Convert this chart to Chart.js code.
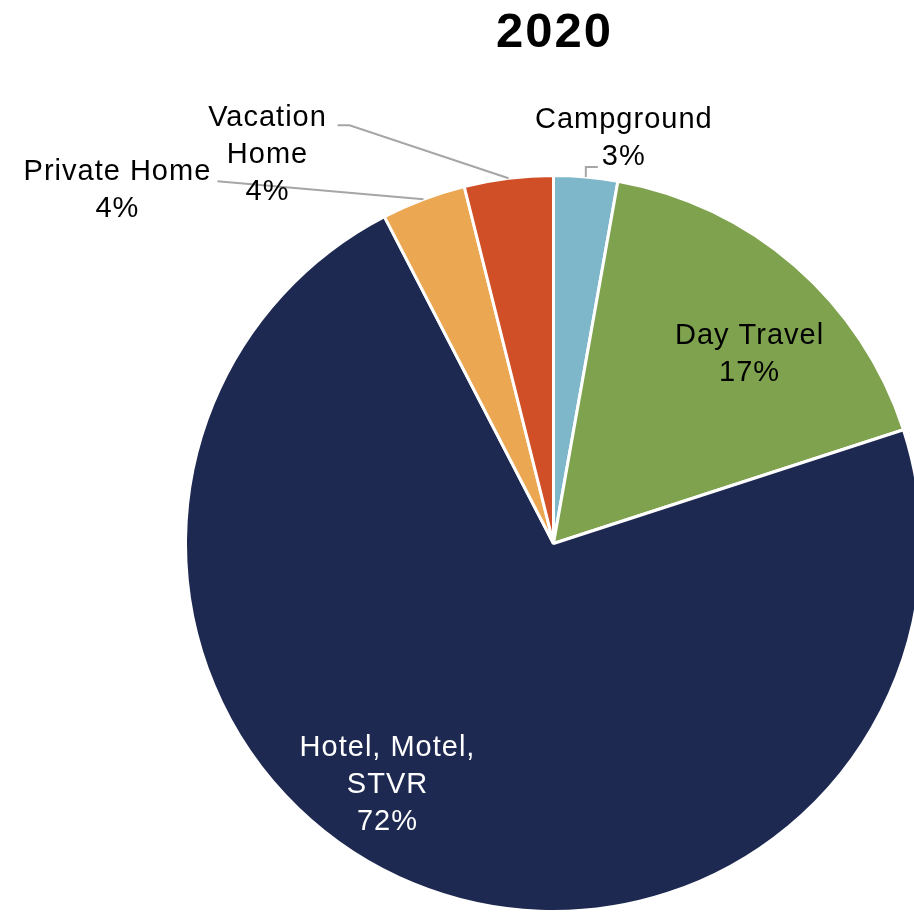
<!DOCTYPE html>
<html>
<head>
<meta charset="utf-8">
<script src="https://cdn.jsdelivr.net/npm/chart.js@4"></script>
<style>
  html, body { margin: 0; padding: 0; background: #fff; overflow: hidden; }
  #wrap { width: 914px; height: 913px; overflow: hidden; }
</style>
</head>
<body>
<div id="wrap"><canvas id="myChart" width="1108" height="913"></canvas></div>
<script>
const chartTitle = '2020';
const categories = ['Campground', 'Day Travel', ['Hotel, Motel,', 'STVR'], 'Private Home', ['Vacation', 'Home']];
const shares = [2.8, 17.2, 72.4, 3.7, 3.9];
const sliceColors = ['#7FB7CA', '#7FA24E', '#1D2951', '#EBA752', '#D04F27'];

// label placement: inside -> shift angle (deg) + radius fraction, outside -> leader + text offset
const labelStyle = [
  { out: true, leader: [[0, -10], [12, -10]], text: [38, -49], color: '#000' },
  { out: false, shift: 5, frac: 0.74, color: '#000', dy: 8 },
  { out: false, shift: 12, frac: 0.80, color: '#fff', dy: 6 },
  { out: true, leader: [[-206, -18]], text: [-306, -19], color: '#000' },
  { out: true, leader: [[-159, -53], [-171, -53]], text: [-241, -52], color: '#000' }
];

const FONT = '"Liberation Sans", Arial, sans-serif';
const lineH = 37;

const labelPlugin = {
  id: 'pieLabels',
  afterDatasetsDraw(chart) {
    const ctx = chart.ctx;
    const meta = chart.getDatasetMeta(0);
    ctx.save();
    meta.data.forEach((arc, i) => {
      const p = arc.getProps(['x', 'y', 'startAngle', 'endAngle', 'outerRadius'], true);
      const mid = (p.startAngle + p.endAngle) / 2;
      const st = labelStyle[i];
      let lines = categories[i];
      if (!Array.isArray(lines)) lines = [lines];
      lines = lines.concat([Math.round(shares[i]) + '%']);
      ctx.font = '29px ' + FONT;
      ctx.letterSpacing = '1px';
      ctx.fillStyle = st.color;
      ctx.textAlign = 'center';
      ctx.textBaseline = 'alphabetic';
      if (st.out) {
        const ax = p.x + Math.cos(mid) * p.outerRadius;
        const ay = p.y + Math.sin(mid) * p.outerRadius;
        ctx.strokeStyle = '#A6A6A6';
        ctx.lineWidth = 2;
        ctx.beginPath();
        ctx.moveTo(ax, ay);
        st.leader.forEach(pt => ctx.lineTo(ax + pt[0], ay + pt[1]));
        ctx.stroke();
        lines.forEach((t, k) => ctx.fillText(t, ax + st.text[0], ay + st.text[1] + k * lineH));
      } else {
        const a = mid + st.shift * Math.PI / 180;
        const cx = p.x + Math.cos(a) * p.outerRadius * st.frac;
        const cy = p.y + Math.sin(a) * p.outerRadius * st.frac;
        const top = cy - (lines.length - 1) * lineH / 2 + st.dy;
        lines.forEach((t, k) => ctx.fillText(t, cx, top + k * lineH));
      }
    });
    // title centred over the pie
    const a0 = meta.data[0];
    ctx.font = 'bold 49px ' + FONT;
    ctx.letterSpacing = '2px';
    ctx.fillStyle = '#000';
    ctx.textAlign = 'center';
    ctx.fillText(chartTitle, a0.x + 1, 47);
    ctx.restore();
  }
};

const ctx = document.getElementById('myChart').getContext('2d');
const myChart = new Chart(ctx, {
  type: 'pie',
  data: {
    labels: categories,
    datasets: [{
      data: shares,
      backgroundColor: sliceColors,
      borderColor: '#ffffff',
      borderWidth: 3
    }]
  },
  options: {
    responsive: false,
    animation: false,
    layout: {
      padding: { top: 174, bottom: 0, left: 184, right: 185 }
    },
    plugins: {
      legend: { display: false },
      tooltip: { enabled: false },
      title: { display: false }
    }
  },
  plugins: [labelPlugin]
});
</script>
</body>
</html>
